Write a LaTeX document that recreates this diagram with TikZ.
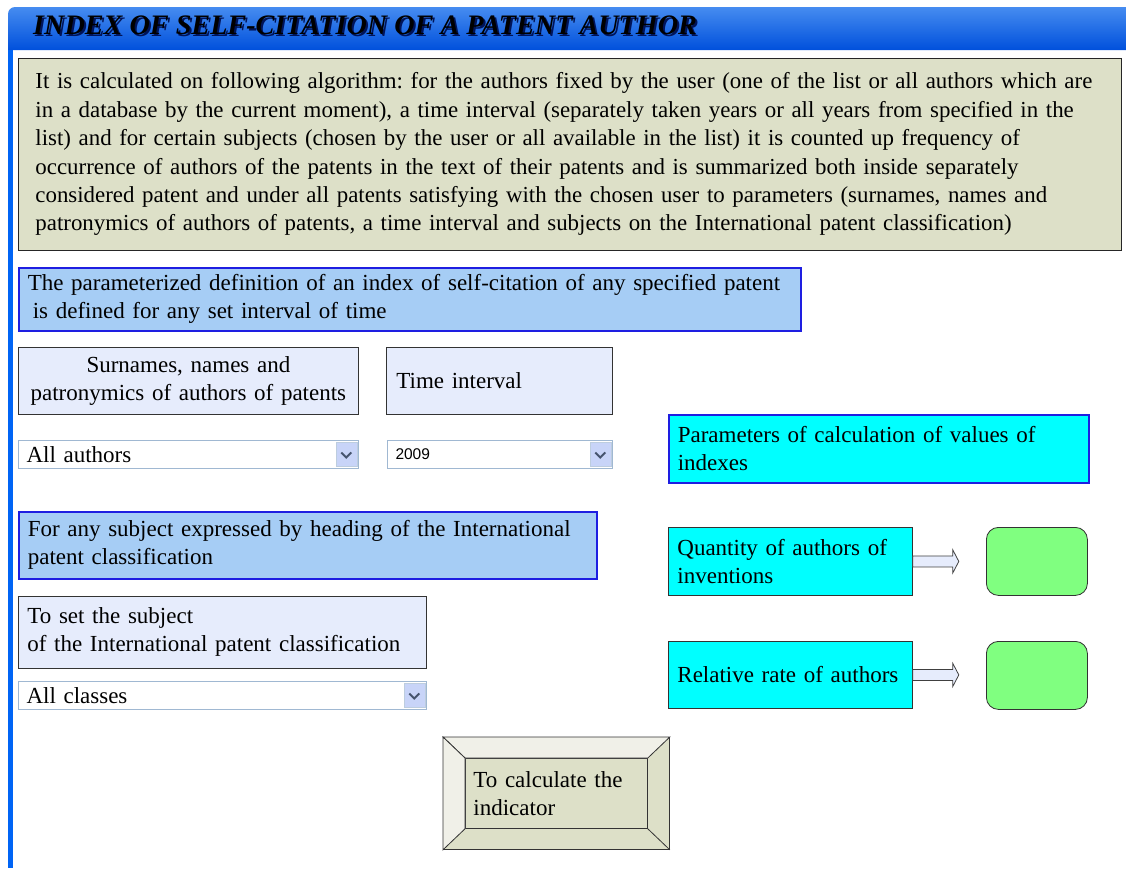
\documentclass[tikz,border=0pt]{standalone}
\usepackage{fontspec}
\setmainfont{Liberation Serif}
\newfontfamily\uisans{Liberation Sans}
\usepackage{tikz}
\usetikzlibrary{calc, positioning}
\frenchspacing

\definecolor{barblue}{RGB}{0,100,245}
\definecolor{bartop}{RGB}{70,140,240}
\definecolor{barbottom}{RGB}{0,80,220}
\definecolor{notegray}{RGB}{221,224,200}
\definecolor{paleblue}{RGB}{166,205,245}
\definecolor{lavender}{RGB}{230,236,252}
\definecolor{framblue}{RGB}{30,30,225}
\definecolor{aqua}{RGB}{0,255,255}
\definecolor{combo}{RGB}{160,184,210}
\definecolor{combobtn}{RGB}{200,212,248}
\definecolor{chevron}{RGB}{70,84,110}
\definecolor{resultgreen}{RGB}{128,255,128}
\definecolor{bevellight}{RGB}{240,240,232}
\definecolor{titleshadow}{RGB}{0,20,90}

\newcommand{\titletext}{INDEX OF SELF-CITATION OF A PATENT AUTHOR}

\begin{document}
\begin{tikzpicture}[x=1pt, y=-1pt,
		box/.style={draw=black!80, line width=0.8pt, anchor=north west, inner xsep=9pt, inner ysep=0pt,
			align=left, font={\fontsize{23}{28}\selectfont}},
		bluebox/.style={box, fill=paleblue, draw=framblue, line width=1.6pt},
		greybox/.style={box, fill=lavender},
		cyanbox/.style={box, fill=aqua},
		dropdown/.style={draw=combo, line width=1pt, fill=white, anchor=north west, inner xsep=8pt, inner ysep=0pt,
			minimum height=28pt, align=left, font={\fontsize{23}{28}\selectfont}},
		dropbtn/.style={draw=combo!70, fill=combobtn, minimum width=21pt, minimum height=24pt, inner sep=0pt, anchor=east},
		blockarrow/.style={draw=black!75, fill=lavender, line width=0.8pt},
		resultbox/.style={draw=black!80, fill=resultgreen, line width=0.8pt, rounded corners=12pt, anchor=north west,
			minimum width=101pt, minimum height=68pt, inner sep=0pt}]
		\useasboundingbox (0,0) rectangle (1126,868);
		% Title bar
		\shade[top color=bartop, middle color=barblue, bottom color=barbottom] (8,50) [rounded corners=7pt] -- (8,7) [sharp corners] -- (1126,7) -- (1126,50) -- cycle;
		\fill[barblue] (8,50) rectangle (13,868);
		\node[anchor=base west, inner sep=0pt, font={\fontsize{28.2}{30}\selectfont\bfseries\itshape}] (title) at (33,34)
			{\rlap{\color{titleshadow}\hspace{2pt}\raisebox{-2pt}{\titletext}}\titletext};

		% Algorithm description
		\node[box, fill=notegray, draw=black!85, inner xsep=17pt, text width=1069pt, minimum height=192pt,
			font={\fontsize{22.9}{28.4}\selectfont}] (algo) at (18,58)
			{It is calculated on following algorithm: for the authors fixed by the user (one of the list or all authors which are\\
			in a database by the current moment), a time interval (separately taken years or all years from specified in the\\
			list) and for certain subjects (chosen by the user or all available in the list) it is counted up frequency of\\
			occurrence of authors of the patents in the text of their patents and is summarized both inside separately\\
			considered patent and under all patents satisfying with the chosen user to parameters (surnames, names and\\
			patronymics of authors of patents, a time interval and subjects on the International patent classification)};

		% Left column
		\node[bluebox, text width=764pt, minimum height=63pt] (defn) at (18,267)
			{The parameterized definition of an index of self-citation of any specified patent\\
			\hspace{5pt}is defined for any set interval of time};
		\node[greybox, text width=322pt, minimum height=67pt, align=center] (authorslbl) at (18,347)
			{Surnames, names and\\ patronymics of authors of patents};
		\node[greybox, inner xsep=10pt, text width=206pt, minimum height=67pt] (timelbl) at (386,347) {Time interval};

		\node[dropdown, text width=324pt] (authors) at (18,440) {All authors};
		\node[dropbtn] (authorsbtn) at ([xshift=-2pt]authors.east) {};
		\node[dropdown, text width=209pt, font={\uisans\fontsize{15.5}{18}\selectfont}] (years) at (387,440) {2009};
		\node[dropbtn] (yearsbtn) at ([xshift=-2pt]years.east) {};

		\node[bluebox, text width=560pt, minimum height=67pt] (subject) at (18,511)
			{For any subject expressed by heading of the International\\ patent classification};
		\node[greybox, text width=390pt, minimum height=72pt] (classlbl) at (18,596)
			{To set the subject\\ of the International patent classification};
		\node[dropdown, text width=392pt] (classes) at (18,681) {All classes};
		\node[dropbtn] (classesbtn) at ([xshift=-2pt]classes.east) {};

		% Chevrons of the combo boxes
		\foreach \b in {authorsbtn, yearsbtn, classesbtn}
			\draw[chevron, line width=2pt] ([shift={(-5,-2)}]\b.center) -- ++(5,5) -- ++(5,-5);

		% Right column
		\node[cyanbox, draw=framblue, line width=1.6pt, text width=402pt, minimum height=68pt] (params) at (668,414)
			{Parameters of calculation of values of\\ indexes};
		\node[cyanbox, text width=226pt, minimum height=68pt] (qty) at (668,527)
			{Quantity of authors of\\ inventions};
		\node[cyanbox, text width=226pt, minimum height=67pt] (rate) at (668,641) {Relative rate of authors};

		\node[resultbox] (qtyval) at (986,527) {};
		\node[resultbox] (rateval) at (986,641) {};

		% Arrows to the results
		\foreach \s in {qty, rate}
			\draw[blockarrow] ($(\s.east)+(0,-5.5)$) -- ++(40,0) -- ++(0,-6) -- ++(6,11.5) -- ++(-6,11.5)
				-- ++(0,-6) -- ++(-40,0) -- cycle;

		% Button
		\node[draw=black!80, fill=notegray, line width=0.8pt, anchor=north west, minimum width=226pt, minimum height=112pt,
			inner sep=0pt] (calcframe) at (443,737) {};
		\node[draw=black!80, fill=notegray, line width=0.8pt, anchor=north west, inner xsep=8pt, inner ysep=0pt,
			text width=166pt, minimum height=70pt, align=left, font={\fontsize{23}{28}\selectfont}] (calc) at (465,758)
			{To calculate the\\ indicator};
		\draw[fill=bevellight, draw=black!80, line width=0.8pt] (calcframe.north west) -- (calcframe.north east)
			-- (calc.north east) -- (calc.north west) -- cycle;
		\draw[fill=bevellight, draw=black!80, line width=0.8pt] (calcframe.north west) -- (calc.north west)
			-- (calc.south west) -- (calcframe.south west) -- cycle;
		\draw[black!80, line width=0.8pt] (calc.south east) -- (calcframe.south east);
\end{tikzpicture}
\end{document}
